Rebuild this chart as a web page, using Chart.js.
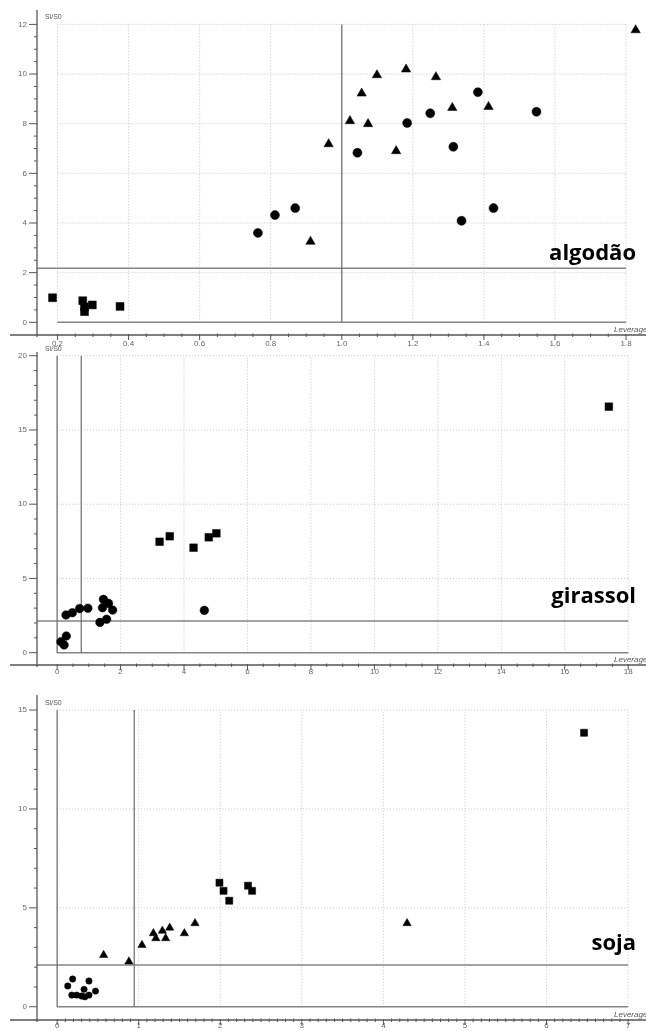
<!DOCTYPE html>
<html>
<head>
<meta charset="utf-8">
<script src="https://cdn.jsdelivr.net/npm/chart.js@4.4.1/dist/chart.umd.min.js"></script>
<style>
  html, body { margin: 0; padding: 0; background: #fff; }
  body { width: 646px; height: 1031px; position: relative; overflow: hidden; }
  canvas { position: absolute; left: 0; }
</style>
</head>
<body>
<canvas id="algodao" width="646" height="352" style="top:0"></canvas>
<canvas id="girassol" width="646" height="335" style="top:345px"></canvas>
<canvas id="soja" width="646" height="351" style="top:680px"></canvas>
<script>
// algodão
const algodaoXTicks = [0.2, 0.4, 0.6, 0.8, 1.0, 1.2, 1.4, 1.6, 1.8];
const algodaoYTicks = [0, 2, 4, 6, 8, 10, 12];
const algodaoQuadrados = [[0.186, 0.99], [0.271, 0.87], [0.276, 0.62], [0.276, 0.43], [0.298, 0.70], [0.376, 0.64]];
const algodaoCirculos = [[0.764, 3.60], [0.812, 4.32], [0.869, 4.60], [1.044, 6.83], [1.184, 8.03], [1.249, 8.42],
  [1.314, 7.07], [1.337, 4.09], [1.383, 9.27], [1.427, 4.60], [1.548, 8.48]];
const algodaoTriangulos = [[0.912, 3.25], [0.963, 7.18], [1.023, 8.11], [1.056, 9.22], [1.074, 7.99], [1.099, 9.96],
  [1.153, 6.90], [1.181, 10.19], [1.265, 9.88], [1.311, 8.64], [1.413, 8.68], [1.827, 11.77]];
const algodaoLimites = [1.0, 2.18]; // leverage, resíduo

// girassol
const girassolXTicks = [0, 2, 4, 6, 8, 10, 12, 14, 16, 18];
const girassolYTicks = [0, 5, 10, 15, 20];
const girassolQuadrados = [[3.23, 7.47], [3.55, 7.84], [4.30, 7.07], [4.78, 7.77], [5.02, 8.04], [17.39, 16.57]];
const girassolCirculos = [[4.64, 2.85], [0.28, 2.54], [0.48, 2.69], [0.71, 2.97], [0.97, 2.99], [1.35, 2.04],
  [1.56, 2.25], [1.43, 3.03], [1.46, 3.59], [1.62, 3.32], [1.75, 2.87], [0.12, 0.74], [0.22, 0.52], [0.29, 1.12]];
const girassolTriangulos = [];
const girassolLimites = [0.76, 2.13];

// soja
const sojaXTicks = [0, 1, 2, 3, 4, 5, 6, 7];
const sojaYTicks = [0, 5, 10, 15];
const sojaQuadrados = [[1.99, 6.27], [2.04, 5.86], [2.11, 5.36], [2.34, 6.12], [2.39, 5.86], [6.46, 13.85]];
const sojaCirculos = [[0.19, 1.40], [0.13, 1.05], [0.39, 1.30], [0.33, 0.88], [0.47, 0.79], [0.18, 0.59],
  [0.24, 0.59], [0.30, 0.54], [0.34, 0.50], [0.39, 0.59]];
const sojaTriangulos = [[0.57, 2.61], [0.88, 2.28], [1.04, 3.12], [1.18, 3.71], [1.29, 3.84], [1.38, 3.99],
  [1.21, 3.46], [1.33, 3.46], [1.56, 3.71], [1.69, 4.22], [4.29, 4.22]];
const sojaLimites = [0.945, 2.11];

const paineis = [
  { id: 'algodao', nome: 'algodão', nomeY: 259.5, area: { left: 37, top: 10, bottom: 335 },
    x: { min: 0.1423, max: 1.839, ticks: algodaoXTicks, minor: 0.05, casas: 1, pad: 4 },
    y: { min: -0.511, max: 12.58, ticks: algodaoYTicks, minor: 0.5 },
    verticais: [algodaoLimites[0]], horizontal: algodaoLimites[1],
    series: [algodaoQuadrados, algodaoCirculos, algodaoTriangulos], raios: [5.6, 4.5, 5.4] },
  { id: 'girassol', nome: 'girassol', nomeY: 258, area: { left: 37, top: 7, bottom: 320 },
    x: { min: -0.634, max: 18.375, ticks: girassolXTicks, minor: 0.5, casas: 0, pad: 2 },
    y: { min: -0.83, max: 20.25, ticks: girassolYTicks, minor: 1 },
    verticais: [0, girassolLimites[0]], horizontal: girassolLimites[1],
    series: [girassolQuadrados, girassolCirculos, girassolTriangulos], raios: [5.4, 4.3, 5.2] },
  { id: 'soja', nome: 'soja', nomeY: 270, area: { left: 37, top: 15, bottom: 340 },
    x: { min: -0.247, max: 7.152, ticks: sojaXTicks, minor: 0.1, casas: 0, pad: 1 },
    y: { min: -0.67, max: 15.76, ticks: sojaYTicks, minor: 1 },
    verticais: [0, sojaLimites[0]], horizontal: sojaLimites[1],
    series: [sojaQuadrados, sojaCirculos, sojaTriangulos], raios: [5, 3.2, 4.8] }
];

const fonteEixo = { family: 'Liberation Sans', size: 8 };

function linha(ctx, x1, y1, x2, y2) {
  ctx.beginPath();
  ctx.moveTo(x1, y1);
  ctx.lineTo(x2, y2);
  ctx.stroke();
}

function desenharFundo(chart, p) {
  const { ctx, chartArea: a, scales: { x, y } } = chart;
  const X = v => x.getPixelForValue(v), Y = v => y.getPixelForValue(v);
  const x0 = p.x.ticks[0], x1 = p.x.ticks[p.x.ticks.length - 1];
  const y0 = p.y.ticks[0], y1 = p.y.ticks[p.y.ticks.length - 1];
  ctx.save();

  // grade pontilhada
  ctx.strokeStyle = '#c4c4c4';
  ctx.lineWidth = 1;
  ctx.setLineDash([1, 2]);
  p.x.ticks.forEach(v => linha(ctx, X(v), Y(y0), X(v), Y(y1)));
  p.y.ticks.forEach(v => linha(ctx, X(x0), Y(v), X(x1), Y(v)));
  ctx.setLineDash([]);

  // linhas de referência
  ctx.strokeStyle = '#858585';
  ctx.lineWidth = 1.6;
  linha(ctx, X(x0), Y(0), X(x1), Y(0));
  linha(ctx, a.left, Y(p.horizontal), X(x1), Y(p.horizontal));
  ctx.strokeStyle = '#6a6a6a';
  ctx.lineWidth = 1.2;
  p.verticais.forEach(v => linha(ctx, X(v), Y(0), X(v), Y(y1)));

  // eixos
  ctx.strokeStyle = '#555';
  ctx.lineWidth = 1.3;
  linha(ctx, a.left, a.top, a.left, a.bottom + 2);
  linha(ctx, 10, a.bottom, chart.width, a.bottom);

  ctx.lineWidth = 1;
  let k = Math.round((p.y.ticks[1] - p.y.ticks[0]) / p.y.minor);
  let n = Math.round((y1 - y0) / p.y.minor);
  for (let i = 0; i <= n; i++) {
    const py = Y(y0 + i * p.y.minor);
    linha(ctx, a.left - (i % k === 0 ? 8 : 3), py, a.left, py);
  }
  k = Math.round((p.x.ticks[1] - p.x.ticks[0]) / p.x.minor);
  n = Math.round((x1 - x0) / p.x.minor);
  for (let i = 0; i <= n; i++) {
    const px = X(x0 + i * p.x.minor);
    if (i % k === 0) linha(ctx, px, a.bottom - 1, px, a.bottom + 5);
    else linha(ctx, px, a.bottom - 1.5, px, a.bottom + 2);
  }

  // rótulos dos eixos
  ctx.fillStyle = '#555';
  ctx.textBaseline = 'middle';
  ctx.textAlign = 'left';
  ctx.font = '7px "Liberation Sans"';
  ctx.fillText('Si/S0', a.left + 8, Y(y1) - 7);
  ctx.font = 'italic 8px "Liberation Sans"';
  ctx.fillText('Leverage', 614, a.bottom - 5);
  ctx.restore();
}

function desenharNome(chart, p) {
  const ctx = chart.ctx;
  ctx.save();
  ctx.fillStyle = '#000';
  ctx.font = 'bold 22px "Open Sans"';
  ctx.textAlign = 'right';
  ctx.textBaseline = 'alphabetic';
  ctx.fillText(p.nome, 636, p.nomeY);
  ctx.restore();
}

function criarPainel(p) {
  const canvas = document.getElementById(p.id);
  const H = canvas.height;
  const estilos = ['rect', 'circle', 'triangle'];
  new Chart(canvas, {
    type: 'scatter',
    data: {
      datasets: p.series.map((s, i) => ({
        data: s.map(([x, y]) => ({ x, y })),
        pointStyle: estilos[i],
        pointRadius: p.raios[i],
        backgroundColor: '#000',
        borderColor: '#000',
        borderWidth: 0.5,
        clip: false
      }))
    },
    options: {
      responsive: false,
      animation: false,
      events: [],
      layout: { padding: { top: p.area.top, left: 0, right: 0, bottom: 0 } },
      plugins: { legend: { display: false }, tooltip: { enabled: false } },
      scales: {
        x: {
          type: 'linear', min: p.x.min, max: p.x.max,
          grid: { display: false, drawTicks: false },
          border: { display: false },
          ticks: { autoSkip: false, maxRotation: 0, padding: p.x.pad, color: '#666', font: fonteEixo,
            callback: v => v.toFixed(p.x.casas) },
          afterBuildTicks: s => { s.ticks = p.x.ticks.map(v => ({ value: v })); },
          afterFit: s => { s.height = H - p.area.bottom; s.paddingLeft = 0; s.paddingRight = 0; }
        },
        y: {
          type: 'linear', min: p.y.min, max: p.y.max,
          grid: { display: false, drawTicks: false },
          border: { display: false },
          ticks: { autoSkip: false, padding: 10, color: '#666', font: fonteEixo, callback: v => String(v) },
          afterBuildTicks: s => { s.ticks = p.y.ticks.map(v => ({ value: v })); },
          afterFit: s => { s.width = p.area.left; s.paddingTop = 0; s.paddingBottom = 0; }
        }
      }
    },
    plugins: [{
      id: 'referencias',
      beforeDatasetsDraw: chart => desenharFundo(chart, p),
      afterDatasetsDraw: chart => desenharNome(chart, p)
    }]
  });
}

paineis.forEach(criarPainel);
</script>
</body>
</html>
